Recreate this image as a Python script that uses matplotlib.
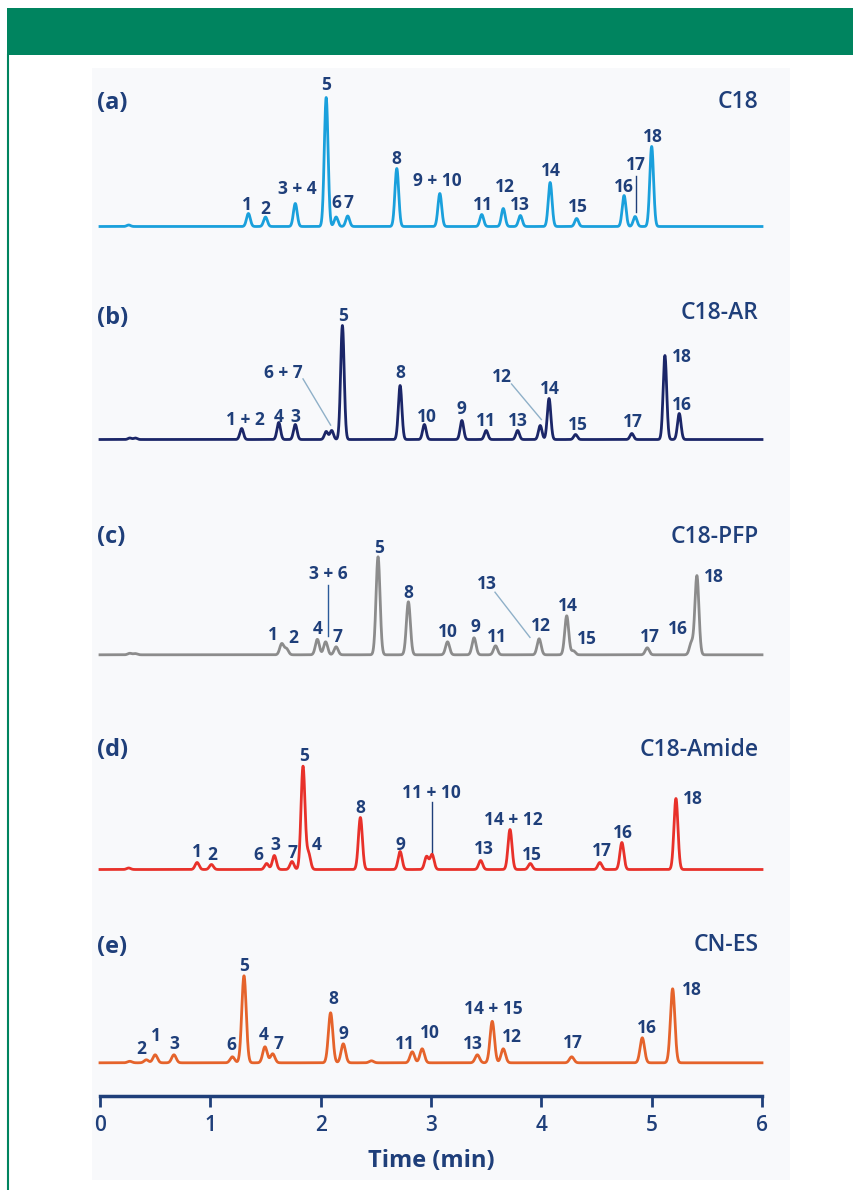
import numpy as np
import matplotlib
matplotlib.use("Agg")
import matplotlib.pyplot as plt
from matplotlib.patches import Rectangle
from matplotlib.lines import Line2D

plt.rcParams['font.family'] = ['Open Sans', 'DejaVu Sans']

# ---------------- data ----------------
phases = ["C18", "C18-AR", "C18-PFP", "C18-Amide", "CN-ES"]
panel_tags = ["(a)", "(b)", "(c)", "(d)", "(e)"]
x_ticks = [0, 1, 2, 3, 4, 5, 6]
x_label = "Time (min)"

# peak retention times (min) and heights (signal units) for each column
a_times = [0.26, 1.345, 1.50, 1.77, 2.05, 2.14, 2.245, 2.69, 3.08, 3.46, 3.655, 3.81, 4.08, 4.32, 4.75, 4.85, 5.00]
a_heights = [1.5, 13, 9.5, 23, 129, 9.5, 10.5, 58, 33, 12, 18, 11, 44, 8, 31, 10, 80]

b_times = [0.27, 0.32, 1.284, 1.62, 1.77, 2.05, 2.10, 2.197, 2.72, 2.94, 3.28, 3.50, 3.785, 3.99, 4.07, 4.31, 4.82, 5.12, 5.25]
b_heights = [1.5, 1.5, 11, 17, 15, 8, 9, 114, 54, 15, 19, 9, 9, 14, 41, 5, 6, 84, 26]

c_times = [0.27, 0.32, 1.647, 1.69, 1.97, 2.045, 2.14, 2.52, 2.795, 3.15, 3.39, 3.585, 3.98, 4.23, 4.29, 4.96, 5.36, 5.41]
c_heights = [1.5, 1.2, 11, 6, 15.5, 13, 8, 98, 53, 13, 17, 9, 16, 39, 4, 7, 12, 79]

d_times = [0.26, 0.88, 1.01, 1.51, 1.58, 1.74, 1.84, 1.89, 2.36, 2.72, 2.96, 3.01, 3.45, 3.716, 3.90, 4.53, 4.73, 5.22]
d_heights = [1.5, 7, 5, 6, 14, 8, 103, 16, 52, 18, 13, 15, 9, 40, 6, 7, 27, 71]

e_times = [0.27, 0.42, 0.50, 0.67, 1.20, 1.305, 1.495, 1.565, 2.09, 2.205, 2.46, 2.83, 2.92, 3.42, 3.555, 3.655, 4.275, 4.915, 5.19]
e_heights = [1.5, 3, 8, 8, 6, 87, 16, 9, 50, 19, 2, 11, 14, 8, 41.5, 14, 6, 25, 74]

# peak labels: text, and anchor (time, height above baseline)
a_label_text = ["1", "2", "3 + 4", "5", "6", "7", "8", "9 + 10", "11", "12", "13", "14", "15", "16", "17", "18"]
a_label_t = [1.33, 1.50, 1.785, 2.05, 2.14, 2.25, 2.69, 3.055, 3.47, 3.67, 3.81, 4.09, 4.33, 4.75, 4.86, 5.01]
a_label_h = [22, 18, 37, 141, 24, 24, 68, 45, 22, 40, 22, 55, 20, 40, 62, 90]

b_label_text = ["1 + 2", "4", "3", "6 + 7", "5", "8", "10", "9", "11", "13", "12", "14", "15", "17", "18", "16"]
b_label_t = [1.314, 1.62, 1.77, 1.66, 2.205, 2.72, 2.96, 3.28, 3.50, 3.79, 3.64, 4.08, 4.335, 4.83, 5.27, 5.27]
b_label_h = [19.5, 23, 22, 67, 123.6, 66, 23, 31, 19, 18.7, 62, 51, 14, 17.7, 83, 34.6]

c_label_text = ["1", "2", "4", "3 + 6", "7", "5", "8", "10", "9", "11", "13", "12", "14", "15", "17", "16", "18"]
c_label_t = [1.57, 1.75, 1.97, 2.07, 2.15, 2.526, 2.79, 3.157, 3.40, 3.595, 3.505, 4.00, 4.245, 4.41, 4.985, 5.24, 5.56]
c_label_h = [19.8, 16.5, 26, 80.5, 18, 107, 61.6, 23, 28, 18.3, 71, 29, 48.8, 15.4, 18.3, 25.8, 78]

d_label_text = ["1", "2", "6", "3", "7", "4", "5", "8", "9", "11 + 10", "13", "14 + 12", "15", "17", "16", "18"]
d_label_t = [0.88, 1.02, 1.435, 1.59, 1.74, 1.96, 1.85, 2.36, 2.72, 3.005, 3.475, 3.745, 3.91, 4.55, 4.74, 5.37]
d_label_h = [17.3, 14, 14.8, 24.7, 16.6, 24.4, 113.8, 61.7, 24.7, 76, 20.8, 49.6, 14.8, 19, 36.4, 70.8]

e_label_text = ["2", "1", "3", "6", "5", "4", "7", "8", "9", "11", "10", "13", "14 + 15", "12", "17", "16", "18"]
e_label_t = [0.37, 0.51, 0.67, 1.19, 1.305, 1.48, 1.616, 2.115, 2.21, 2.764, 2.99, 3.383, 3.565, 3.73, 4.29, 4.955, 5.363]
e_label_h = [14, 26.7, 19, 17.7, 97, 27.5, 19, 63.6, 28.5, 19, 29.5, 19, 54, 25.4, 20, 35, 73]

# leader lines: (t0, h0, t1, h1)
a_leaders = [(4.86, 51, 4.86, 15)]
b_leaders = [(1.84, 60.6, 2.09, 14.4), (3.73, 55.5, 4.00, 20)]
c_leaders = [(2.07, 70, 2.07, 19), (3.58, 62.6, 3.897, 17.4)]
d_leaders = [(3.005, 68, 3.005, 16)]
e_leaders = []

# ---------------- layout / style ----------------
W, H = 854, 1190
AX_BOTTOM_PX, AX_TOP_PX = 1096, 60
baseline_px = [226.5, 439.5, 654.8, 869.5, 1062.8]
offsets = [AX_BOTTOM_PX - b for b in baseline_px]
colors = ["#1aa0dc", "#1b2668", "#8c8c8c", "#e8312a", "#e5632b"]
sigmas = [0.017, 0.016, 0.018, 0.018, 0.020]
leader_colors = [["#1f3f7a"], ["#8fb0c8", "#8fb0c8"], ["#2a5a9a", "#8fb0c8"], ["#1f3f7a"], []]
tag_h = [123.5, 121.5, 118, 119.5, 116]
phase_h = [125, 126.5, 118, 119.5, 118]
NAVY = "#1f3f7a"
GREEN = "#00845f"

fig = plt.figure(figsize=(W / 100, H / 100), dpi=100)

# decoration: header band, left border, pale panel (behind the axes)
fig.add_artist(Rectangle((7 / W, 1 - 55 / H), 847 / W, 47 / H, transform=fig.transFigure,
                         facecolor=GREEN, edgecolor="none", zorder=-5))
fig.add_artist(Line2D([8 / W, 8 / W], [0, 1 - 55 / H], transform=fig.transFigure,
                      color=GREEN, lw=1.5, zorder=-5))
fig.add_artist(Rectangle((92 / W, 1 - 1180 / H), 698 / W, 1112 / H, transform=fig.transFigure,
                         facecolor="#f8f9fb", edgecolor="none", zorder=-5))

ax = fig.add_axes([100 / W, (H - AX_BOTTOM_PX) / H, 662 / W, (AX_BOTTOM_PX - AX_TOP_PX) / H])
ax.set_zorder(5)
ax.patch.set_alpha(0)
ax.set_xlim(0, 6)
ax.set_ylim(0, AX_BOTTOM_PX - AX_TOP_PX)

t = np.linspace(0, 6, 6001)
times = [a_times, b_times, c_times, d_times, e_times]
heights = [a_heights, b_heights, c_heights, d_heights, e_heights]
ltexts = [a_label_text, b_label_text, c_label_text, d_label_text, e_label_text]
lts = [a_label_t, b_label_t, c_label_t, d_label_t, e_label_t]
lhs = [a_label_h, b_label_h, c_label_h, d_label_h, e_label_h]
leaders = [a_leaders, b_leaders, c_leaders, d_leaders, e_leaders]

for i in range(5):
    sig = np.zeros_like(t)
    for tr, hh in zip(times[i], heights[i]):
        sig += hh * np.exp(-0.5 * ((t - tr) / sigmas[i]) ** 2)
    ax.plot(t, offsets[i] + sig, color=colors[i], lw=2.0, solid_joinstyle="round", clip_on=False, zorder=3)
    for txt, lt, lh in zip(ltexts[i], lts[i], lhs[i]):
        ax.text(lt, offsets[i] + lh, txt, ha="center", va="center", fontsize=12.5,
                fontweight="bold", color=NAVY, zorder=4)
    for (t0, h0, t1, h1), lc in zip(leaders[i], leader_colors[i]):
        ax.plot([t0, t1], [offsets[i] + h0, offsets[i] + h1], color=lc, lw=1.0, zorder=2)
    ax.text(-0.03, offsets[i] + tag_h[i], panel_tags[i], ha="left", va="center", fontsize=17,
            fontweight="bold", color=NAVY)
    ax.text(5.97, offsets[i] + phase_h[i], phases[i], ha="right", va="center", fontsize=16.5,
            fontweight="semibold", color=NAVY)

for s in ["top", "right", "left"]:
    ax.spines[s].set_visible(False)
ax.spines["bottom"].set_color(NAVY)
ax.spines["bottom"].set_linewidth(2.5)
ax.set_yticks([])
ax.set_xticks(x_ticks)
ax.set_xticklabels([str(v) for v in x_ticks], fontweight="semibold")
ax.tick_params(axis="x", direction="out", length=8, width=2, color=NAVY, labelcolor=NAVY,
               labelsize=15, pad=6)
ax.set_xlabel(x_label, fontsize=17, fontweight="bold", color=NAVY, labelpad=9)

fig.savefig("out.png", dpi=100)
